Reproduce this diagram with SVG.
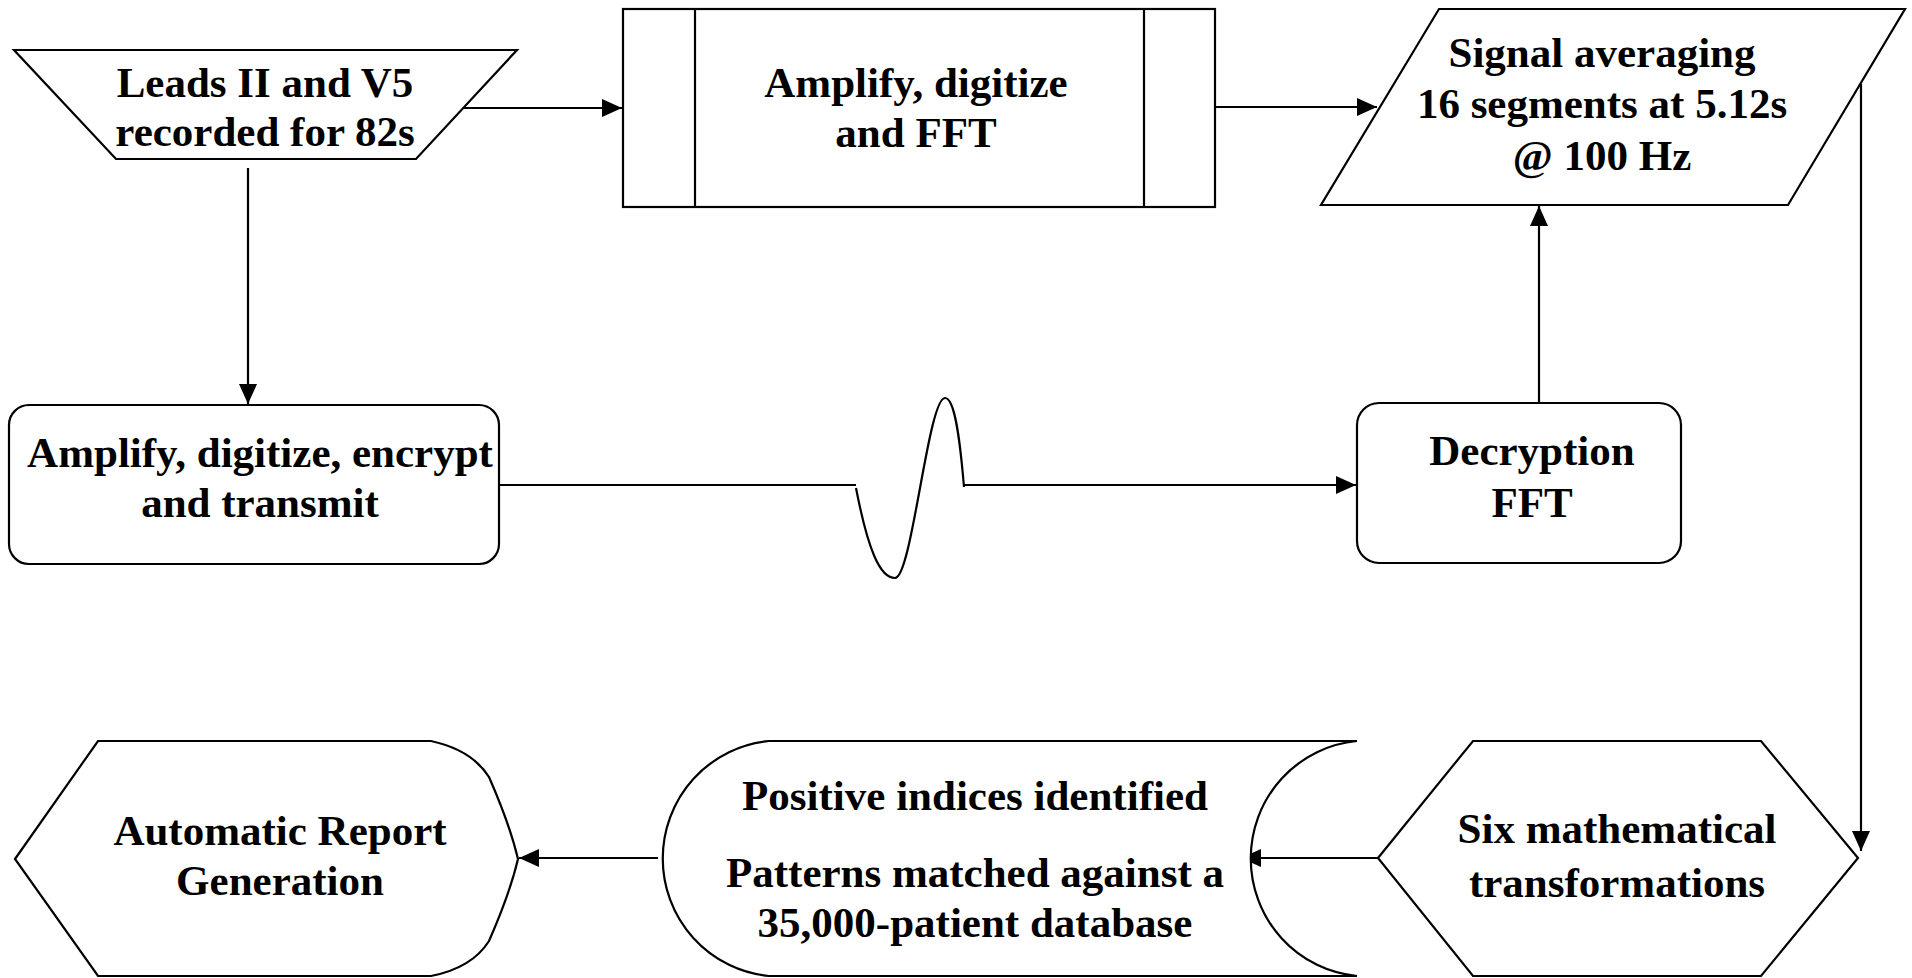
<svg xmlns="http://www.w3.org/2000/svg" width="1912" height="978" viewBox="0 0 1912 978">
<defs>
<style>
.s{fill:#fff;stroke:#000;stroke-width:2.2;stroke-linejoin:miter}
.c{fill:none;stroke:#000;stroke-width:2.2}
.t{font-family:"Liberation Serif","Times New Roman",serif;font-weight:bold;font-size:43px;fill:#000;text-anchor:middle}
</style>
<marker id="ah" viewBox="0 0 20 18" refX="20" refY="9" markerWidth="20" markerHeight="18" markerUnits="userSpaceOnUse" orient="auto">
<path d="M0,0 L20,9 L0,18 Z" fill="#000"/>
</marker>
</defs>
<rect width="1912" height="978" fill="#fff"/>

<g id="connectors">
<line class="c" x1="463" y1="108" x2="622" y2="108" marker-end="url(#ah)"/>
<line class="c" x1="248" y1="168" x2="248" y2="404" marker-end="url(#ah)"/>
<line class="c" x1="1216" y1="107" x2="1377" y2="107" marker-end="url(#ah)"/>
<line class="c" x1="1539" y1="403" x2="1539" y2="206" marker-end="url(#ah)"/>
<polyline class="c" points="498,485 856,485"/>
<path class="c" stroke-width="1.8" d="M856,488 C868,550 880,578 895,578 C912,578 928,398 945,398 C955,398 960,440 964,487"/>
<line class="c" x1="964" y1="485" x2="1356" y2="485" marker-end="url(#ah)"/>
<line class="c" x1="1861" y1="84" x2="1861" y2="851" marker-end="url(#ah)"/>
<line class="c" x1="1378" y1="858" x2="1241" y2="858" marker-end="url(#ah)"/>
<line class="c" x1="658" y1="858" x2="519" y2="858" marker-end="url(#ah)"/>
</g>

<g id="leads">
<polygon class="s" points="14,50 517,50 416,159 116,159"/>
<text class="t" x="265" y="97">Leads II and V5</text>
<text class="t" x="265" y="146">recorded for 82s</text>
</g>

<g id="amplify-fft">
<rect class="s" x="623" y="9" width="592" height="198"/>
<line class="c" x1="695" y1="9" x2="695" y2="207"/>
<line class="c" x1="1144" y1="9" x2="1144" y2="207"/>
<text class="t" x="916" y="97">Amplify, digitize</text>
<text class="t" x="916" y="147">and FFT</text>
</g>

<g id="signal-averaging">
<polygon class="s" points="1439,9 1905,9 1788,205 1321,205"/>
<text class="t" x="1602" y="67">Signal averaging</text>
<text class="t" x="1602" y="118">16 segments at 5.12s</text>
<text class="t" x="1602" y="170">@ 100 Hz</text>
</g>

<g id="amplify-transmit">
<rect class="s" x="9" y="405" width="490" height="159" rx="20" ry="20"/>
<text class="t" x="260" y="467">Amplify, digitize, encrypt</text>
<text class="t" x="260" y="517">and transmit</text>
</g>

<g id="decryption">
<rect class="s" x="1357" y="403" width="324" height="160" rx="22" ry="22"/>
<text class="t" x="1532" y="465">Decryption</text>
<text class="t" x="1532" y="517">FFT</text>
</g>

<g id="six-transformations">
<polygon class="s" points="1378,858 1473,741 1761,741 1858,858 1761,976 1473,976"/>
<text class="t" x="1617" y="843">Six mathematical</text>
<text class="t" x="1617" y="897">transformations</text>
</g>

<g id="patterns">
<path class="s" d="M769,741 H1357 A117 118 0 0 0 1357,976 H769 A117 118 0 0 1 769,741 Z"/>
<text class="t" x="975" y="810">Positive indices identified</text>
<text class="t" x="975" y="887">Patterns matched against a</text>
<text class="t" x="975" y="937">35,000-patient database</text>
</g>

<g id="report">
<path class="s" d="M15,859 L98,741 H431 Q472,750 489,777 Q510,825 518,859 Q510,893 489,941 Q472,968 431,976 H98 Z"/>
<text class="t" x="280" y="845">Automatic Report</text>
<text class="t" x="280" y="895">Generation</text>
</g>
</svg>
